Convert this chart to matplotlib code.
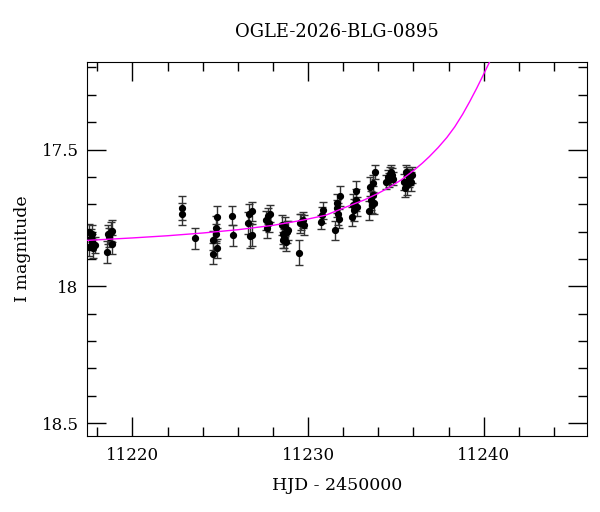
import matplotlib
matplotlib.use("Agg")
import matplotlib.pyplot as plt
from matplotlib.ticker import MultipleLocator

# photometry (HJD - 2450000, I mag, error)
hjd = [11217.51, 11217.65, 11217.70, 11217.55, 11217.78, 11217.84, 11217.70,
       11218.54, 11218.63, 11218.75, 11218.84, 11218.82, 11218.69,
       11222.81, 11222.81, 11223.57,
       11224.57, 11224.61, 11224.76, 11224.82, 11224.80, 11224.73,
       11225.68, 11225.73,
       11226.57, 11226.65, 11226.78, 11226.72, 11226.82,
       11227.61, 11227.72, 11227.85, 11227.68, 11227.80,
       11228.49, 11228.56, 11228.62, 11228.72, 11228.80, 11228.88, 11228.66, 11228.55,
       11229.47, 11229.52, 11229.60, 11229.70, 11229.77,
       11230.72, 11230.86, 11230.80,
       11231.56, 11231.62, 11231.68, 11231.83, 11231.78, 11231.64,
       11232.51, 11232.64, 11232.74, 11232.70, 11232.58, 11232.80,
       11233.46, 11233.53, 11233.59, 11233.68, 11233.78, 11233.82, 11233.72, 11233.65,
       11234.45, 11234.55, 11234.64, 11234.74, 11234.80, 11234.60, 11234.84,
       11235.47, 11235.53, 11235.57, 11235.66, 11235.72, 11235.80, 11235.85, 11235.92, 11235.62]
mag = [17.801, 17.825, 17.807, 17.855, 17.861, 17.849, 17.837,
       17.874, 17.809, 17.801, 17.797, 17.846, 17.821,
       17.713, 17.737, 17.825,
       17.831, 17.880, 17.788, 17.746, 17.861, 17.807,
       17.742, 17.814,
       17.770, 17.734, 17.725, 17.816, 17.813,
       17.758, 17.743, 17.734, 17.788, 17.770,
       17.776, 17.807, 17.825, 17.837, 17.801, 17.795, 17.782, 17.831,
       17.877, 17.770, 17.764, 17.758, 17.776,
       17.764, 17.722, 17.740,
       17.795, 17.697, 17.734, 17.670, 17.752, 17.715,
       17.746, 17.722, 17.651, 17.685, 17.703, 17.709,
       17.724, 17.636, 17.685, 17.624, 17.697, 17.582, 17.667, 17.703,
       17.618, 17.600, 17.588, 17.582, 17.594, 17.612, 17.606,
       17.618, 17.642, 17.582, 17.588, 17.606, 17.600, 17.618, 17.594, 17.630]
err = [0.030, 0.035, 0.030, 0.035, 0.035, 0.030, 0.030,
       0.040, 0.035, 0.035, 0.040, 0.035, 0.035,
       0.045, 0.040, 0.040,
       0.035, 0.040, 0.045, 0.040, 0.035, 0.035,
       0.035, 0.040,
       0.040, 0.035, 0.035, 0.045, 0.040,
       0.035, 0.030, 0.030, 0.035, 0.030,
       0.035, 0.040, 0.035, 0.035, 0.040, 0.035, 0.035, 0.030,
       0.045, 0.035, 0.030, 0.030, 0.035,
       0.025, 0.030, 0.030,
       0.035, 0.035, 0.040, 0.035, 0.035, 0.030,
       0.035, 0.040, 0.035, 0.040, 0.040, 0.035,
       0.035, 0.035, 0.035, 0.030, 0.040, 0.025, 0.035, 0.030,
       0.025, 0.025, 0.025, 0.025, 0.025, 0.025, 0.025,
       0.030, 0.030, 0.025, 0.025, 0.030, 0.030, 0.035, 0.030, 0.035]

# model curve
model_hjd = [11217.41, 11220.0, 11222.0, 11224.0, 11226.0, 11228.0, 11229.7,
             11231.0, 11232.4, 11233.2, 11233.9, 11234.6, 11235.3, 11236.0,
             11236.5, 11236.9, 11237.4, 11237.9, 11238.35, 11238.8, 11239.2,
             11239.6, 11240.0, 11240.43]
model_mag = [17.832, 17.823, 17.815, 17.805, 17.793, 17.777, 17.758,
             17.740, 17.704, 17.684, 17.663, 17.639, 17.611, 17.577,
             17.550, 17.526, 17.493, 17.456, 17.417, 17.371, 17.325,
             17.276, 17.224, 17.167]

title = "OGLE-2026-BLG-0895"

plt.rcParams["font.family"] = ["DejaVu Serif"]

fig = plt.figure(figsize=(6, 5.12), dpi=100)
ax = fig.add_axes([0.145, 0.1484, 0.833, 0.7305])

ax.plot(model_hjd, model_mag, color="magenta", lw=1, zorder=3)
ax.errorbar(hjd, mag, yerr=err, fmt="o", color="black", ms=4.2,
            ecolor="0.2", elinewidth=1, capsize=3, capthick=1, zorder=2)

ax.set_xlim(11217.41, 11245.87)
ax.set_ylim(18.547, 17.18)
ax.xaxis.set_major_locator(MultipleLocator(10))
ax.xaxis.set_minor_locator(MultipleLocator(2))
ax.yaxis.set_major_locator(MultipleLocator(0.5))
ax.yaxis.set_minor_locator(MultipleLocator(0.1))
ax.yaxis.set_major_formatter(plt.FuncFormatter(lambda v, p: "%g" % v))
ax.tick_params(which="both", direction="in", top=True, right=True,
               labelsize=12, width=1)
ax.tick_params(which="major", length=13.5)
ax.tick_params(axis="y", which="major", pad=6)
ax.tick_params(axis="x", which="major", pad=8)
ax.tick_params(which="minor", length=6.8)

ax.set_xlabel("HJD - 2450000", fontsize=12.5, labelpad=9)
ax.set_ylabel("I magnitude", fontsize=12.5, labelpad=8)
ax.set_title(title, fontsize=13, pad=18)

fig.savefig("out.png", dpi=100)
